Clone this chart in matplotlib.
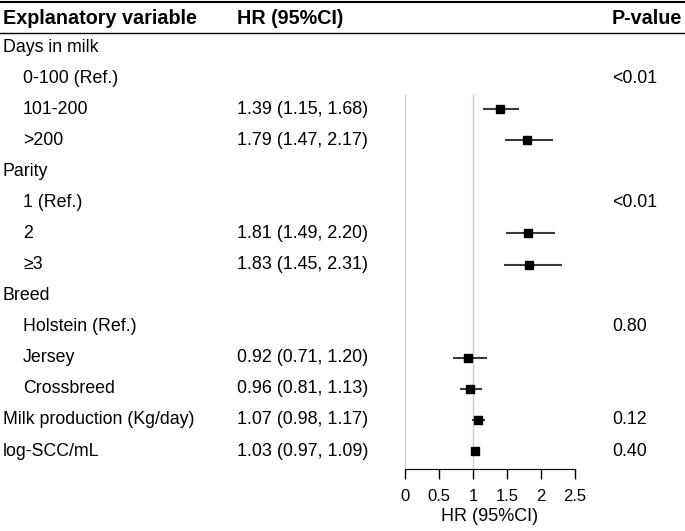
import matplotlib.pyplot as plt
from matplotlib.transforms import blended_transform_factory

plt.rcParams["font.family"] = ["Liberation Sans", "DejaVu Sans"]

# rows of the table, top to bottom
labels = ["Days in milk", "0-100 (Ref.)", "101-200", ">200",
          "Parity", "1 (Ref.)", "2", "\u22653",
          "Breed", "Holstein (Ref.)", "Jersey", "Crossbreed",
          "Milk production (Kg/day)", "log-SCC/mL"]
indent = [False, True, True, True,
          False, True, True, True,
          False, True, True, True,
          False, False]
hr = [None, None, 1.39, 1.79, None, None, 1.81, 1.83, None, None, 0.92, 0.96, 1.07, 1.03]
lo = [None, None, 1.15, 1.47, None, None, 1.49, 1.45, None, None, 0.71, 0.81, 0.98, 0.97]
hi = [None, None, 1.68, 2.17, None, None, 2.20, 2.31, None, None, 1.20, 1.13, 1.17, 1.09]
pvals = ["", "<0.01", "", "", "", "<0.01", "", "", "", "0.80", "", "", "0.12", "0.40"]
xticks = [0, 0.5, 1, 1.5, 2, 2.5]
xticklabels = ["0", "0.5", "1", "1.5", "2", "2.5"]

W, H = 685, 531
fig = plt.figure(figsize=(W / 100, H / 100), dpi=100)

# forest panel: x 0..2.5 -> px 405..575, rows 0..13 -> px 47..451
row_h = (451 - 47) / 13
top_px, bot_px = 33, 469
ax = fig.add_axes([405 / W, 1 - bot_px / H, 170 / W, (bot_px - top_px) / H])
ax.set_xlim(0, 2.5)
ax.set_ylim((bot_px - 47) / row_h, (top_px - 47) / row_h)
for s in ["top", "right", "left"]:
    ax.spines[s].set_visible(False)
ax.set_yticks([])
ax.set_xticks(xticks)
ax.set_xticklabels(xticklabels)
ax.tick_params(axis="x", length=7.5, width=1, labelsize=12, pad=7)
ax.set_xlabel("HR (95%CI)", fontsize=13, labelpad=3)
ax.set_facecolor("none")

y_start = 1.5
ax.vlines(0, y_start, ax.get_ylim()[0], color="#d0d0d0", lw=1)
ax.vlines(1, y_start, ax.get_ylim()[0], color="#c8c8f0", lw=1)

for i in range(len(labels)):
    if hr[i] is None:
        continue
    ax.plot([lo[i], hi[i]], [i, i], color="#3a3a3a", lw=1.5, solid_capstyle="butt")
    ax.plot(hr[i], i, marker="s", ms=5.8, color="black")

tr = blended_transform_factory(fig.transFigure, ax.transData)
for i, lab in enumerate(labels):
    x = (23 if indent[i] else 3) / W
    fig.text(x, i, lab, transform=tr, fontsize=12.8, va="center", ha="left")
    if hr[i] is not None:
        fig.text(237 / W, i, f"{hr[i]:.2f} ({lo[i]:.2f}, {hi[i]:.2f})",
                 transform=tr, fontsize=12.9, va="center", ha="left")
    if pvals[i]:
        fig.text(612 / W, i, pvals[i], transform=tr, fontsize=12.8, va="center", ha="left")

# header
hy = 1 - 18 / H
fig.text(3 / W, hy, "Explanatory variable", fontsize=14.2, fontweight="bold", va="center")
fig.text(237 / W, hy, "HR (95%CI)", fontsize=14.2, fontweight="bold", va="center")
fig.text(682 / W, hy, "P-value", fontsize=14.2, fontweight="bold", va="center", ha="right")
fig.add_artist(plt.Line2D([0, 1], [1 - 2 / H, 1 - 2 / H], color="black", lw=1.5))
fig.add_artist(plt.Line2D([0, 1], [1 - 33 / H, 1 - 33 / H], color="black", lw=1))

fig.savefig("out.png", dpi=100)
